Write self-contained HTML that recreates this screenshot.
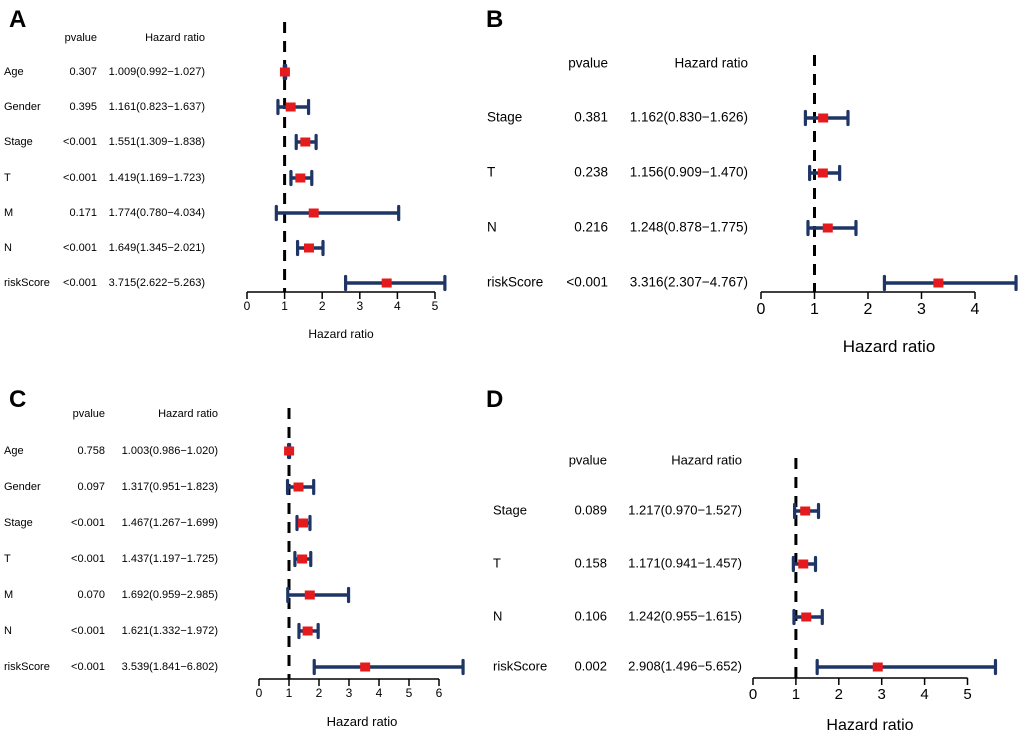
<!DOCTYPE html>
<html><head><meta charset="utf-8"><style>
body{margin:0;background:#fff}
svg{display:block;font-family:"Liberation Sans",Arial,sans-serif}
</style></head><body>
<svg id="s" width="1020" height="737"></svg>
<script>
const labelsA=["Age","Gender","Stage","T","M","N","riskScore"];
const pA=["0.307","0.395","<0.001","<0.001","0.171","<0.001","<0.001"];
const hrA=[1.009,1.161,1.551,1.419,1.774,1.649,3.715];
const loA=[0.992,0.823,1.309,1.169,0.780,1.345,2.622];
const hiA=[1.027,1.637,1.838,1.723,4.034,2.021,5.263];
const ticksA=[0,1,2,3,4,5];

const labelsB=["Stage","T","N","riskScore"];
const pB=["0.381","0.238","0.216","<0.001"];
const hrB=[1.162,1.156,1.248,3.316];
const loB=[0.830,0.909,0.878,2.307];
const hiB=[1.626,1.470,1.775,4.767];
const ticksB=[0,1,2,3,4];

const labelsC=["Age","Gender","Stage","T","M","N","riskScore"];
const pC=["0.758","0.097","<0.001","<0.001","0.070","<0.001","<0.001"];
const hrC=[1.003,1.317,1.467,1.437,1.692,1.621,3.539];
const loC=[0.986,0.951,1.267,1.197,0.959,1.332,1.841];
const hiC=[1.020,1.823,1.699,1.725,2.985,1.972,6.802];
const ticksC=[0,1,2,3,4,5,6];

const labelsD=["Stage","T","N","riskScore"];
const pD=["0.089","0.158","0.106","0.002"];
const hrD=[1.217,1.171,1.242,2.908];
const loD=[0.970,0.941,0.955,1.496];
const hiD=[1.527,1.457,1.615,5.652];
const ticksD=[0,1,2,3,4,5];

const S=document.getElementById('s');const NS="http://www.w3.org/2000/svg";
function mk(t,a,txt){const e=document.createElementNS(NS,t);for(const k in a)e.setAttribute(k,a[k]);if(txt!==undefined)e.textContent=txt;S.appendChild(e);return e;}
function f(x){return x.toFixed(3);}
function panel(c){
  const sx=v=>c.x0+v*c.unit;
  let e=mk('text',{x:c.letterX,y:c.letterY,'font-size':24,'font-weight':'bold'},c.letter);
  
  
  e=mk('text',{x:c.pR,y:c.headY,'font-size':c.fs,'text-anchor':'end','dominant-baseline':'middle'},'pvalue');
  
  
  e=mk('text',{x:c.hR,y:c.headY,'font-size':c.fs,'text-anchor':'end','dominant-baseline':'middle'},'Hazard ratio');
  
  
  // dashed ref line
  e=mk('line',{x1:sx(1),x2:sx(1),y1:c.dashTop,y2:c.axisY,stroke:'#000','stroke-width':3,'stroke-dasharray':'11 8'});
  
  
  c.labels.forEach((lab,i)=>{
    const y=c.rows[i];
    let t=mk('text',{x:c.labX,y:y,'font-size':c.fs,'dominant-baseline':'middle'},lab);
    
    
    t=mk('text',{x:c.pR,y:y,'font-size':c.fs,'text-anchor':'end','dominant-baseline':'middle'},c.p[i]);
    
    
    t=mk('text',{x:c.hR,y:y,'font-size':c.fs,'text-anchor':'end','dominant-baseline':'middle'},f(c.hr[i])+'('+f(c.lo[i])+'\u2212'+f(c.hi[i])+')');
    
    
    const x1=sx(c.lo[i]),x2=sx(c.hi[i]);
    let l=mk('line',{x1:x1,x2:x2,y1:y,y2:y,stroke:'#1e3566','stroke-width':3.5});
    
    
    [x1,x2].forEach(xx=>{
      const cp=mk('line',{x1:xx,x2:xx,y1:y-6.5,y2:y+6.5,stroke:'#1e3566','stroke-width':3.2,'stroke-linecap':'round'});
      
      
    });
    const r=mk('rect',{x:sx(c.hr[i])-5,y:y-4.5,width:10,height:9,fill:'#e41a1c'});
    
    
  });
  const ax=mk('line',{x1:sx(c.ticks[0]),x2:sx(c.ticks[c.ticks.length-1]),y1:c.axisY,y2:c.axisY,stroke:'#000','stroke-width':1.5});
  
  
  c.ticks.forEach(v=>{
    const tk=mk('line',{x1:sx(v),x2:sx(v),y1:c.axisY,y2:c.axisY+7,stroke:'#000','stroke-width':1.5});
    
    
    const tl=mk('text',{x:sx(v),y:c.axisY+c.tfs+6,'font-size':c.tfs,'text-anchor':'middle'},String(v));
    
    
  });
  const xt=mk('text',{x:c.titleX,y:c.titleY,'font-size':c.tifs,'text-anchor':'middle'},'Hazard ratio');
  
  
}
panel({letter:'A',letterX:9,letterY:27,labels:labelsA,p:pA,hr:hrA,lo:loA,hi:hiA,ticks:ticksA,
  x0:247,unit:37.6,axisY:292,dashTop:22,rows:[72,107,142,178,213,248,283],labX:4,pR:97,hR:205,headY:38,fs:11,tfs:12,tifs:12,titleX:341,titleY:338});
panel({letter:'B',letterX:486,letterY:27,labels:labelsB,p:pB,hr:hrB,lo:loB,hi:hiB,ticks:ticksB,
  x0:761,unit:53.5,axisY:292,dashTop:55,rows:[118,173,228,283],labX:487,pR:608,hR:748,headY:64,fs:13.5,tfs:16,tifs:17,titleX:889,titleY:352});
panel({letter:'C',letterX:9,letterY:407,labels:labelsC,p:pC,hr:hrC,lo:loC,hi:hiC,ticks:ticksC,
  x0:259,unit:30,axisY:679,dashTop:408,rows:[451,487,523,559,595,631,667],labX:4,pR:105,hR:218,headY:414,fs:11,tfs:12,tifs:13,titleX:362,titleY:726});
panel({letter:'D',letterX:486,letterY:407,labels:labelsD,p:pD,hr:hrD,lo:loD,hi:hiD,ticks:ticksD,
  x0:753,unit:42.9,axisY:678,dashTop:458,rows:[511,564,617,667],labX:493,pR:607,hR:742,headY:461,fs:13,tfs:15,tifs:16,titleX:870,titleY:730});
</script>
</body></html>
